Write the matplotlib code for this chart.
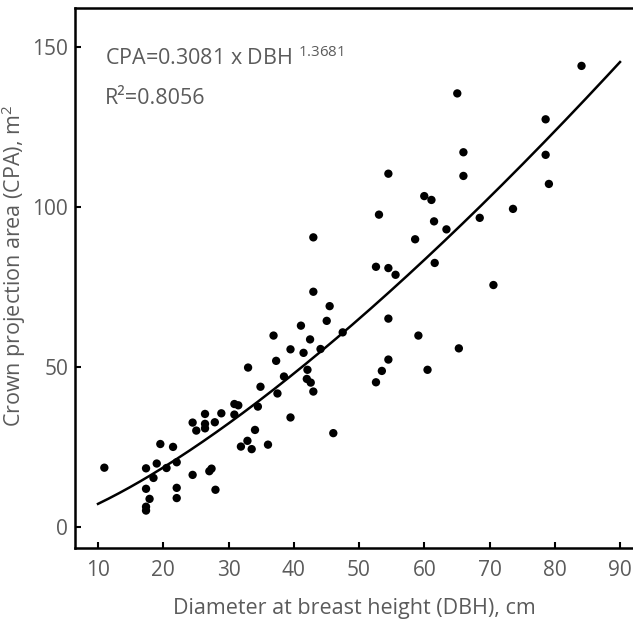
import numpy as np
import matplotlib
matplotlib.use("Agg")
import matplotlib.pyplot as plt

dbh = [10.97, 17.36, 17.36, 17.9, 17.36, 17.36, 18.5, 19.0, 19.55, 20.5,
       21.5, 22.06, 22.06, 22.06, 24.5, 24.5, 25.06, 26.4, 26.4, 26.4,
       27.9, 28.9, 27.06, 27.4, 28.0, 30.9, 31.5, 30.9, 31.9, 33.0,
       32.9, 33.55, 34.06, 34.5, 34.9, 36.05, 36.9, 37.3,
       43.0, 53.06, 61.5, 63.4, 58.6, 52.6, 54.5, 55.6, 61.6, 43.0,
       45.5, 45.05, 41.1, 42.5, 39.5, 41.5, 44.1, 47.5, 54.5, 59.1,
       65.3, 38.5, 42.1, 42.0, 42.6, 43.0, 37.5, 54.5, 53.5, 52.6,
       60.5, 39.5, 46.06,
       84.1, 65.06, 78.6, 66.0, 78.6, 66.0, 79.1, 60.0, 61.1, 68.5,
       73.6, 70.6, 54.5]
cpa = [18.5, 18.3, 11.9, 8.75, 6.3, 5.1, 15.3, 19.8, 25.9, 18.4,
       25.0, 20.2, 12.2, 9.0, 16.25, 32.6, 30.1, 35.3, 32.2, 30.8,
       32.7, 35.5, 17.4, 18.2, 11.6, 38.4, 38.0, 35.1, 25.1, 49.8,
       26.9, 24.3, 30.3, 37.6, 43.8, 25.7, 59.8, 51.9,
       90.5, 97.6, 95.5, 93.0, 89.9, 81.3, 80.9, 78.8, 82.5, 73.5,
       69.0, 64.4, 62.9, 58.6, 55.5, 54.4, 55.6, 60.8, 65.1, 59.8,
       55.8, 47.0, 49.1, 46.25, 45.1, 42.3, 41.7, 52.3, 48.75, 45.2,
       49.1, 34.2, 29.3,
       144.1, 135.5, 127.4, 117.1, 116.3, 109.7, 107.2, 103.4, 102.2, 96.6,
       99.4, 75.6, 110.4]

# fitted power model given in the figure
coef_a = 0.3081
coef_b = 1.3681
r2 = 0.8056
fit_range = [10, 90]

xticks = [10, 20, 30, 40, 50, 60, 70, 80, 90]
yticks = [0, 50, 100, 150]

grey = "#5b5b5b"
plt.rcParams["font.family"] = ["Open Sans", "DejaVu Sans"]
plt.rcParams["mathtext.fontset"] = "custom"
plt.rcParams["mathtext.rm"] = "Open Sans"
plt.rcParams["mathtext.it"] = "Open Sans"

fig = plt.figure(figsize=(6.33, 6.29), dpi=100)
ax = fig.add_axes([0.1185, 0.1288, 0.8815, 0.8585])

xf = np.linspace(fit_range[0], fit_range[1], 200)
ax.plot(xf, coef_a * xf ** coef_b, color="black", lw=1.8, zorder=2)
ax.scatter(dbh, cpa, s=36, color="black", edgecolors="none", zorder=3)

ax.set_xlim(6.475, 91.99)
ax.set_ylim(-6.6, 162.2)
ax.set_xticks(xticks)
ax.set_yticks(yticks)

for side in ["left", "top", "bottom"]:
    ax.spines[side].set_linewidth(1.8)
ax.spines["right"].set_visible(False)
ax.tick_params(axis="both", direction="in", length=4, width=1.5,
               colors="black", labelcolor=grey, labelsize=15)
ax.tick_params(axis="x", pad=9)
ax.tick_params(axis="y", pad=5)

ax.set_xlabel("Diameter at breast height (DBH), cm", color=grey,
              fontsize=15.5, labelpad=12)
ax.set_ylabel("Crown projection area (CPA), m$^{2}$", color=grey,
              fontsize=15.5)
ax.yaxis.set_label_coords(-0.084, 0.522)

ax.text(0.054, 0.907, f"CPA=0.3081 x DBH $^{{{coef_b}}}$", transform=ax.transAxes,
        color=grey, fontsize=15.5, va="center", ha="left")
ax.text(0.054, 0.833, f"R\u00b2={r2}", transform=ax.transAxes,
        color=grey, fontsize=15.5, va="center", ha="left")

fig.savefig("out.png", dpi=100)
